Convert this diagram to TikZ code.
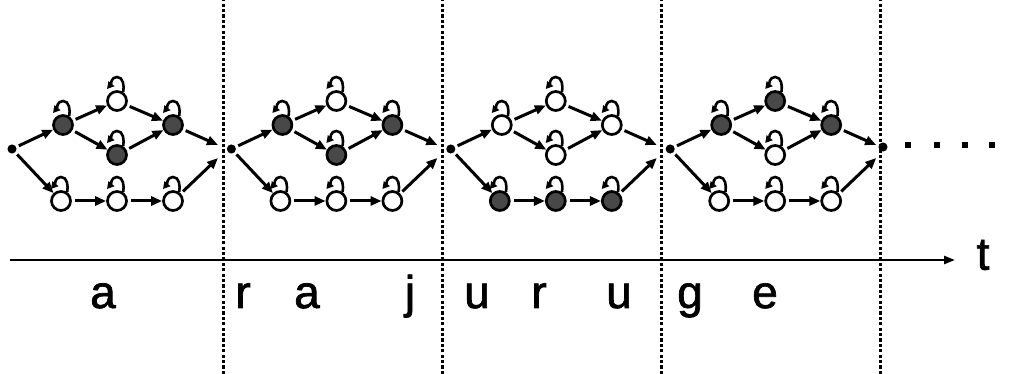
\documentclass[tikz,border=0pt]{standalone}
\usepackage{fontspec}
\setmainfont{Liberation Sans}
\newfontfamily\heavyfont{Liberation Sans}[FakeBold=1.5]
\usetikzlibrary{arrows.meta}
\definecolor{darkstate}{HTML}{484848}

\tikzset{
  state/.style={circle, draw, line width=2.7pt, minimum size=19pt, inner sep=0pt},
  begdot/.style={circle, fill=black, draw=black, line width=1pt, minimum size=8pt, inner sep=0pt},
  dotsq/.style={rectangle, fill, minimum size=6.5pt, inner sep=0pt},
  trans/.style={-{Triangle[length=11pt,width=9pt]}, line width=3pt, shorten <=3pt},
  selfarr/.style={-{Triangle[length=7pt,width=7.5pt]}, line width=2.6pt},
  border/.style={line width=3pt, dash pattern=on 3.2pt off 2.2pt},
  letter/.style={anchor=base, inner sep=0pt, font=\heavyfont\fontsize{46}{50}\selectfont},
}
\newcommand{\selfloop}[1]{%
  \draw[selfarr] (#1.55) to[out=80,in=0] ([yshift=24pt]#1.center)
    to[out=180,in=50] ([shift={(-10,12)}]#1.center);}

\begin{document}
\begin{tikzpicture}[x=1pt, y=1pt]
  \useasboundingbox (0,0) rectangle (1013,374);

  % Zeitachse
  \coordinate (t0) at (10,114);
  \coordinate (t1) at (955,114);
  \draw[-{Triangle[length=11pt,width=8pt]}, line width=2.4pt] (t0) -- (t1);
  \node[letter, anchor=center] (tlab) at (983,119) {t};

  % Trennlinien
  \foreach \x in {223,442,661,880} {
    \draw[border] (\x,0) -- (\x,374);
  }

  % Modelle (je Abschnitt)
  \foreach \b/\fa/\fb/\fc/\fd/\fe in {0/darkstate/white/darkstate/darkstate/white,
      1/darkstate/white/darkstate/darkstate/white,
      2/white/white/white/white/darkstate,
      3/darkstate/darkstate/darkstate/white/white} {
    \begin{scope}[xshift=\b*219.4pt]
      \node[begdot] (s\b) at (12,225) {};
      \node[state, fill=\fa] (A\b) at (63,249) {};
      \node[state, fill=\fb] (B\b) at (117,273) {};
      \node[state, fill=\fc] (C\b) at (173,249) {};
      \node[state, fill=\fd] (D\b) at (117,219) {};
      \node[state, fill=\fe] (E\b) at (61,173) {};
      \node[state, fill=\fe] (F\b) at (117,173) {};
      \node[state, fill=\fe] (G\b) at (173,173) {};
      \coordinate (eu\b) at (218,229);
      \coordinate (ed\b) at (218,216);
      \draw[trans] (s\b) -- (A\b);
      \draw[trans] (s\b) -- (E\b);
      \draw[trans] (A\b) -- (B\b);
      \draw[trans] (A\b) -- (D\b);
      \draw[trans] (B\b) -- (C\b);
      \draw[trans] (D\b) -- (C\b);
      \draw[trans] (E\b) -- (F\b);
      \draw[trans] (F\b) -- (G\b);
      \draw[trans] (C\b) -- (eu\b);
      \draw[trans] (G\b) -- (ed\b);
      \foreach \n in {A,B,C,D,E,F,G} {\selfloop{\n\b}}
    \end{scope}
  }

  % Fortsetzung
  \node[begdot] (last) at (883,227) {};
  \foreach \x [count=\i] in {908,937,965,992} {
    \node[dotsq] (p\i) at (\x,229) {};
  }

  % Laute
  \foreach \x/\l [count=\i] in {103/a, 243/r, 307/a, 410/j, 477/u, 539/r, 619/u, 690/g, 765/e} {
    \node[letter] (l\i) at (\x,66) {\l};
  }
\end{tikzpicture}
\end{document}
